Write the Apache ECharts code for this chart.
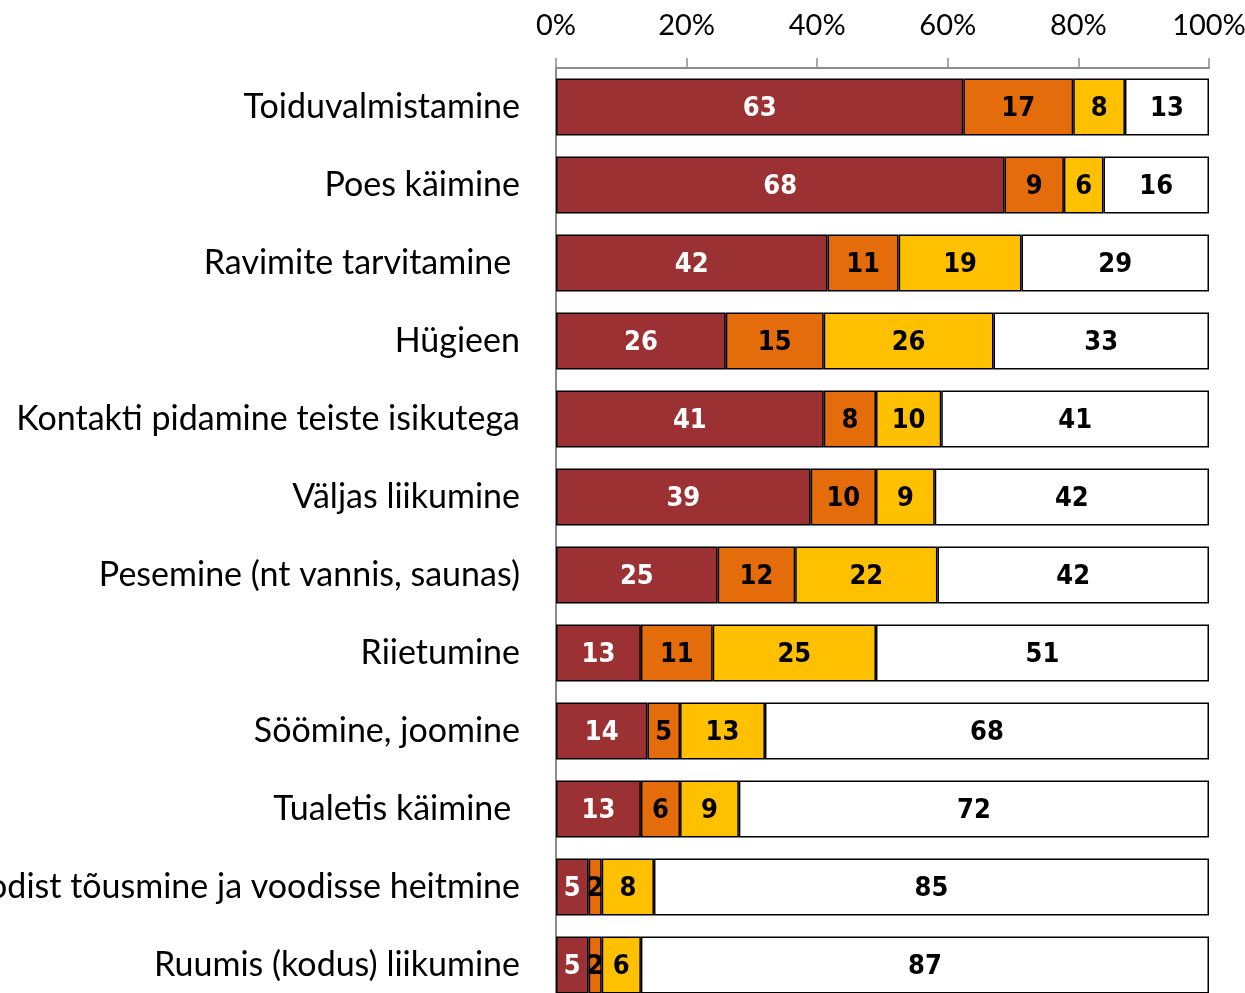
<!DOCTYPE html>
<html>
<head>
<meta charset="utf-8">
<script src="https://cdn.jsdelivr.net/npm/echarts@6/dist/echarts.min.js"></script>
<style>
  html, body { margin: 0; padding: 0; background: #fff; }
  #chart { width: 1245px; height: 993px; }
</style>
</head>
<body>
<div id="chart"></div>
<script>
  // kategooriad (ülevalt alla)
  const categories = [
    'Toiduvalmistamine',
    'Poes käimine',
    'Ravimite tarvitamine ',
    'Hügieen',
    'Kontakti pidamine teiste isikutega',
    'Väljas liikumine',
    'Pesemine (nt vannis, saunas)',
    'Riietumine',
    'Söömine, joomine',
    'Tualetis käimine ',
    'Voodist tõusmine ja voodisse heitmine',
    'Ruumis (kodus) liikumine'
  ];
  const valuesRed    = [63, 68, 42, 26, 41, 39, 25, 13, 14, 13, 5, 5];
  const valuesOrange = [17, 9, 11, 15, 8, 10, 12, 11, 5, 6, 2, 2];
  const valuesYellow = [8, 6, 19, 26, 10, 9, 22, 25, 13, 9, 8, 6];
  const valuesWhite  = [13, 16, 29, 33, 41, 42, 42, 51, 68, 72, 85, 87];
  const xTicks = [0, 20, 40, 60, 80, 100];

  const rows = [valuesRed, valuesOrange, valuesYellow, valuesWhite];
  const colors = ['#9B3133', '#E46C0A', '#FFC000', '#FFFFFF'];
  const labelColors = ['#FFFFFF', '#000000', '#000000', '#000000'];

  // iga rida skaleeritakse 100%-le, silt näitab algset väärtust
  const totals = categories.map((c, i) => rows.reduce((s, r) => s + r[i], 0));

  const series = rows.map((vals, k) => ({
    type: 'bar',
    stack: 'total',
    barWidth: 57,
    data: vals.map((v, i) => ({ value: v / totals[i] * 100, raw: v })),
    itemStyle: { color: colors[k], borderColor: '#000', borderWidth: 1.5 },
    label: {
      show: true,
      position: 'inside',
      offset: [0, 2],
      color: labelColors[k],
      fontFamily: "'DejaVu Sans Condensed', 'Liberation Sans', sans-serif",
      fontWeight: 'bold',
      fontSize: 27,
      formatter: p => p.data.raw
    },
    silent: true
  }));

  const myChart = echarts.init(document.getElementById('chart'));
  myChart.setOption({
    animation: false,
    backgroundColor: '#fff',
    grid: { left: 556, right: 36, top: 68, height: 936, containLabel: false, outerBoundsMode: 'none' },
    xAxis: {
      type: 'value',
      position: 'top',
      min: xTicks[0],
      max: xTicks[xTicks.length - 1],
      interval: xTicks[1] - xTicks[0],
      axisLine: { show: true, lineStyle: { color: '#8C8C8C', width: 2 } },
      axisTick: { show: true, length: 10, lineStyle: { color: '#8C8C8C', width: 1.5 } },
      axisLabel: {
        formatter: '{value}%',
        margin: 28,
        color: '#000',
        fontFamily: 'Lato',
        fontSize: 29
      },
      splitLine: { show: false }
    },
    yAxis: {
      type: 'category',
      inverse: true,
      data: categories,
      axisLine: { show: true, lineStyle: { color: '#8C8C8C', width: 2 } },
      axisTick: { show: false },
      axisLabel: {
        margin: 36,
        color: '#000',
        fontFamily: 'Lato',
        fontSize: 34
      }
    },
    series: series
  });
</script>
</body>
</html>
